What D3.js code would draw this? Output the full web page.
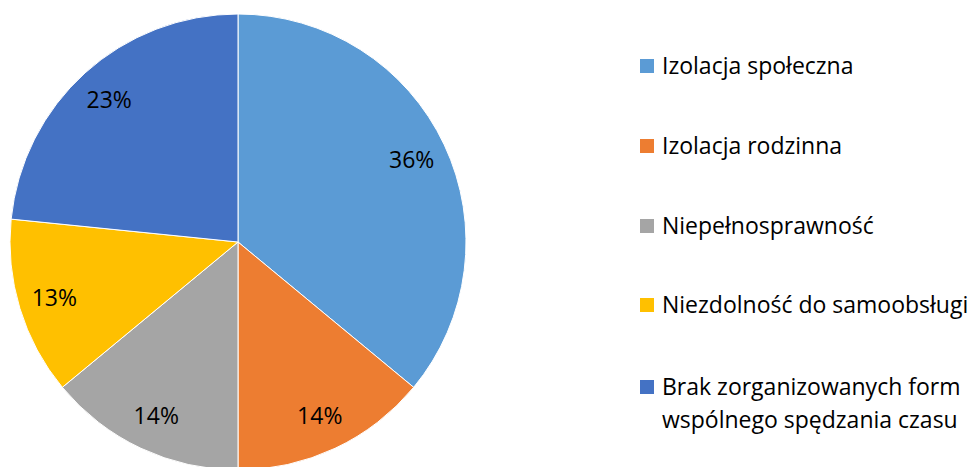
<!DOCTYPE html>
<html>
<head>
<meta charset="utf-8">
<script src="https://cdn.jsdelivr.net/npm/d3@7"></script>
<style>
  body { margin: 0; background: #fff; }
  text { font-family: "Open Sans", sans-serif; fill: #000; }
</style>
</head>
<body>
<div id="chart"></div>
<script>
var svgWidth = 970;
var svgHeight = 467;

// data
var categories = [
    "Izolacja społeczna",
    "Izolacja rodzinna",
    "Niepełnosprawność",
    "Niezdolność do samoobsługi",
    "Brak zorganizowanych form wspólnego spędzania czasu"
];
var values = [36, 14, 14, 12.6, 23.4];
var valueLabels = ["36%", "14%", "14%", "13%", "23%"];
var legendLines = [
    ["Izolacja społeczna"],
    ["Izolacja rodzinna"],
    ["Niepełnosprawność"],
    ["Niezdolność do samoobsługi"],
    ["Brak zorganizowanych form", "wspólnego spędzania czasu"]
];
var colors = ["#5B9BD5", "#ED7D31", "#A5A5A5", "#FFC000", "#4472C4"];

var cx = 238, cy = 242, radius = 228;

var svg = d3.select("#chart")
    .append("svg")
    .attr("width", svgWidth)
    .attr("height", svgHeight);

var pieGroup = svg.append("g")
    .attr("transform", `translate(${cx},${cy})`);

var pie = d3.pie().sort(null).value(d => d);
var arcs = pie(values);

var arc = d3.arc().innerRadius(0).outerRadius(radius);
var labelArc = d3.arc().innerRadius(192).outerRadius(192);

pieGroup.selectAll("path")
    .data(arcs)
    .enter()
    .append("path")
    .attr("d", arc)
    .attr("fill", (d, i) => colors[i])
    .attr("stroke", "#fff")
    .attr("stroke-width", 1);

pieGroup.selectAll("text")
    .data(arcs)
    .enter()
    .append("text")
    .attr("transform", d => `translate(${labelArc.centroid(d)})`)
    .attr("text-anchor", "middle")
    .attr("dy", "0.35em")
    .style("font-size", "23px")
    .text((d, i) => valueLabels[i]);

// legend
var legend = svg.append("g")
    .attr("transform", "translate(640,0)");

var rowY = [66, 146, 226, 305, 387];

var items = legend.selectAll("g")
    .data(categories)
    .enter()
    .append("g")
    .attr("transform", (d, i) => `translate(0,${rowY[i]})`);

items.append("rect")
    .attr("x", 0)
    .attr("y", -7)
    .attr("width", 14)
    .attr("height", 14)
    .attr("fill", (d, i) => colors[i]);

items.append("text")
    .attr("x", 22)
    .attr("y", 0)
    .style("font-size", "23px")
    .selectAll("tspan")
    .data((d, i) => legendLines[i])
    .enter()
    .append("tspan")
    .attr("x", 22)
    .attr("y", (d, j) => j * 33)
    .attr("dy", "0.35em")
    .text(d => d);
</script>
</body>
</html>
